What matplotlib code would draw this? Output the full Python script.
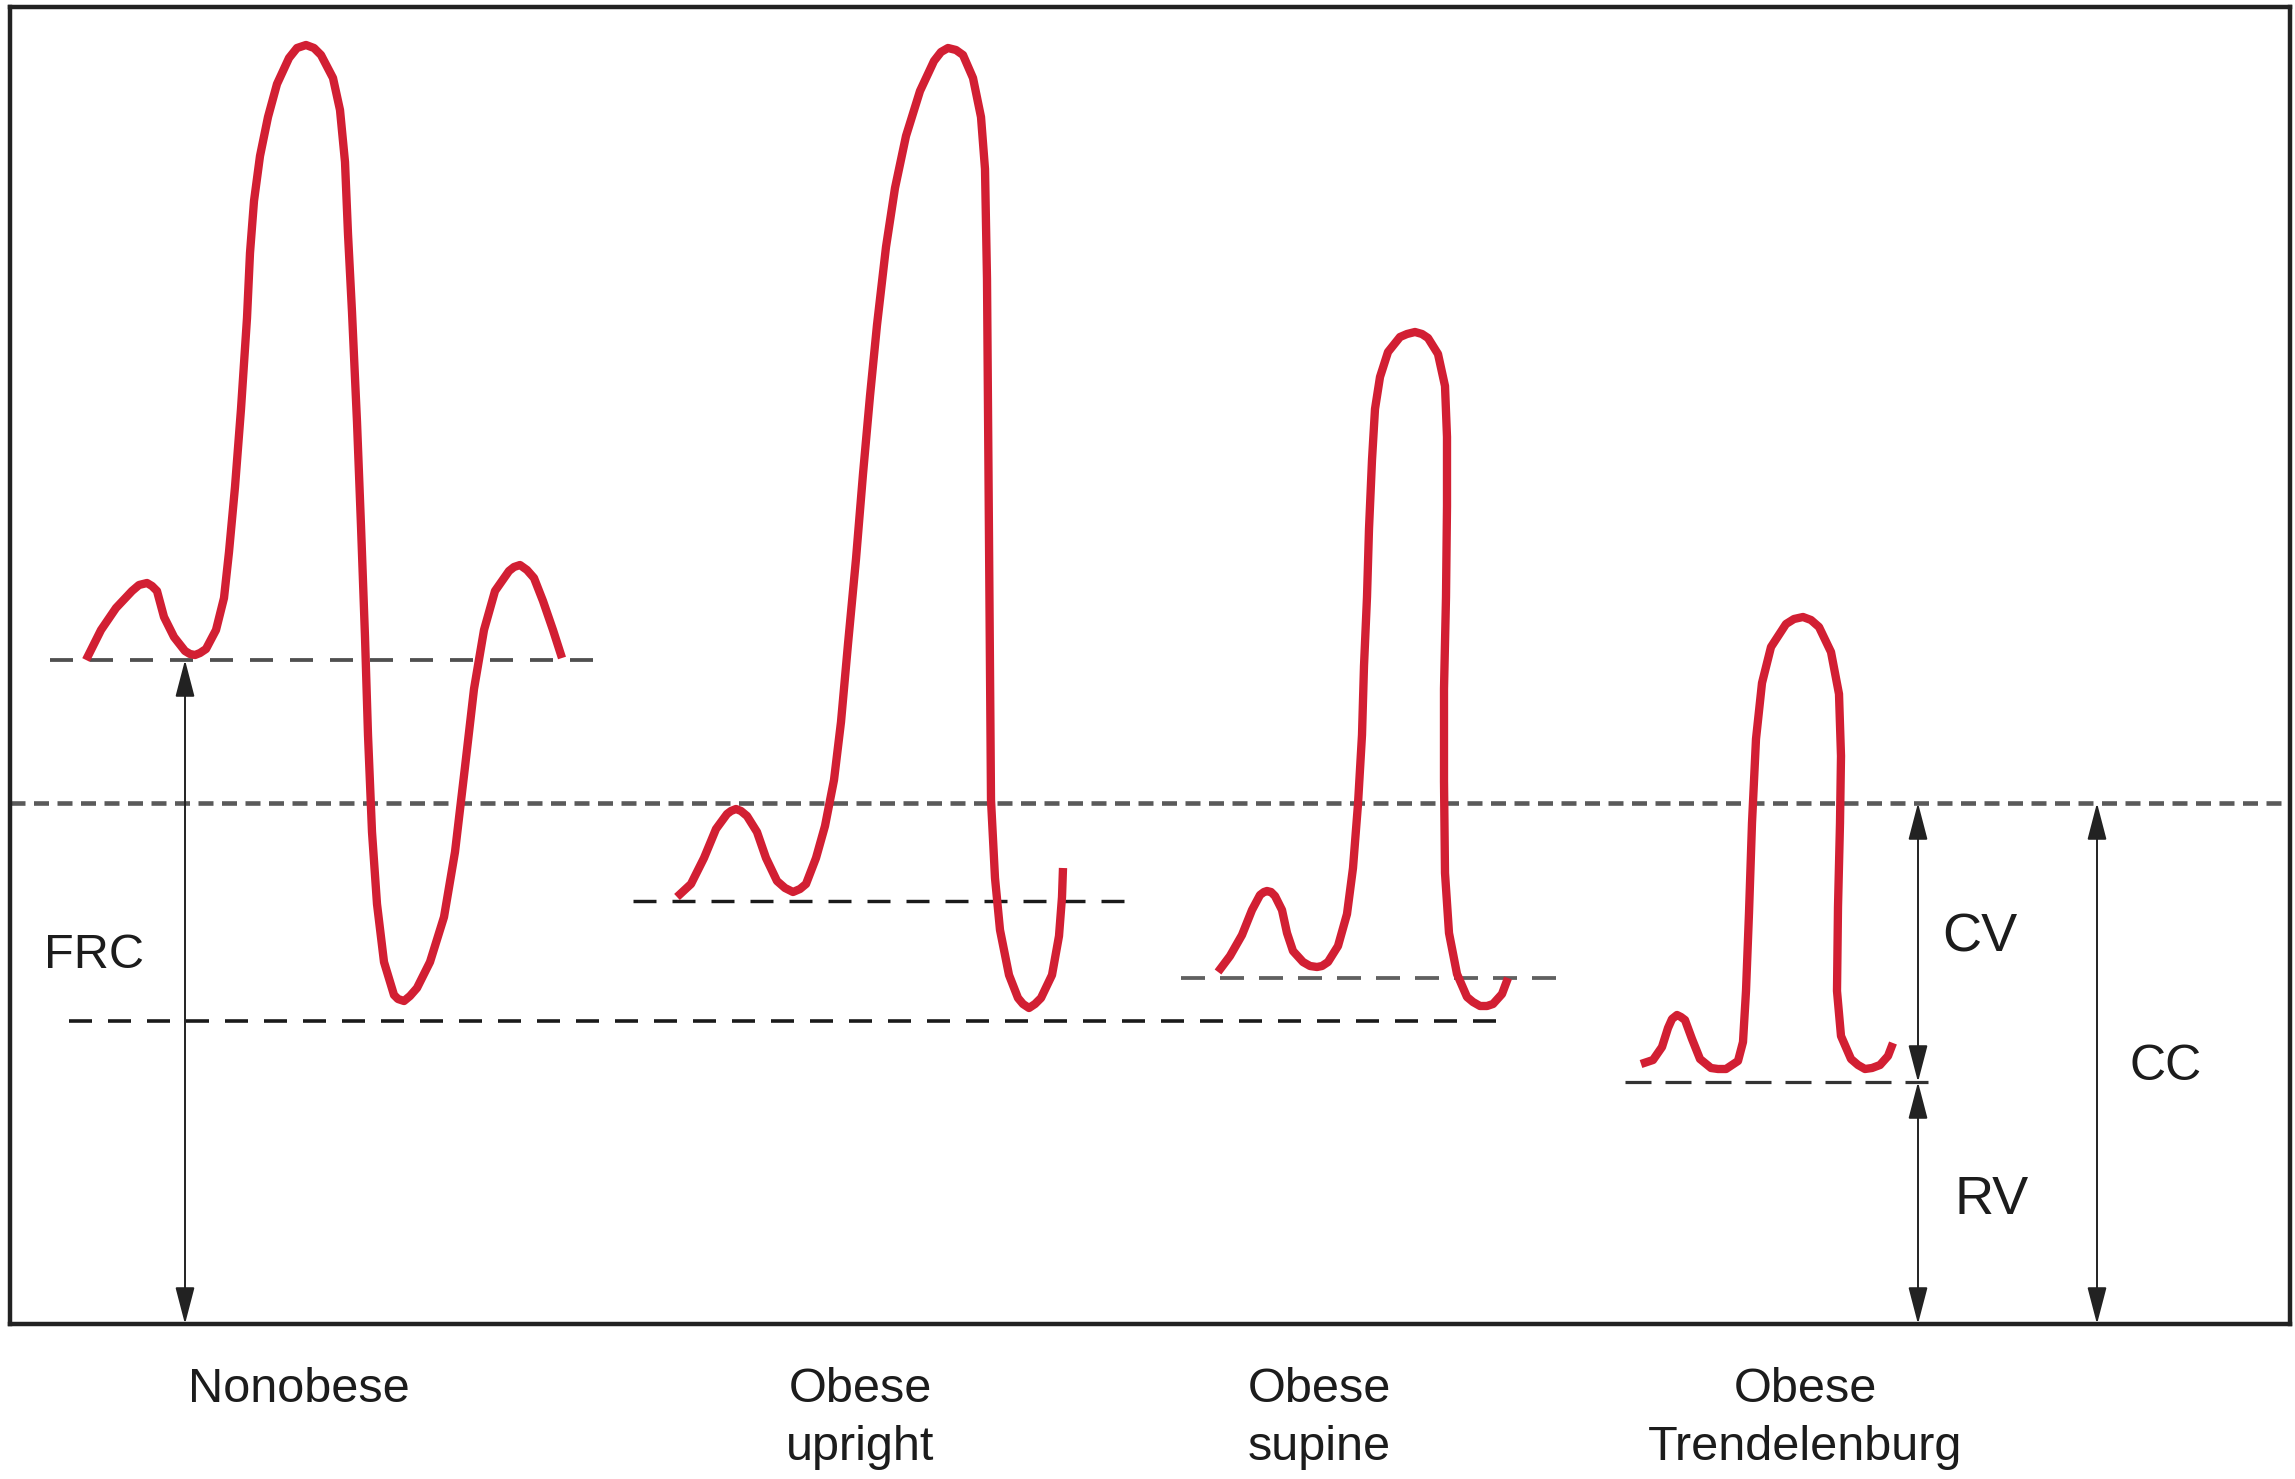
import numpy as np
import matplotlib
matplotlib.use("Agg")
import matplotlib.pyplot as plt

plt.rcParams['font.family'] = ['Liberation Sans', 'DejaVu Sans']

# breathing traces: x position, lung volume (arbitrary units, 0 = box floor)
nonobese_x = [86, 101, 116, 132, 139, 147, 152, 157, 164, 174, 185, 190, 195, 200, 206, 216,
              224, 229, 235, 241, 247, 250, 254, 260, 268, 277, 289, 297, 306, 314, 321, 333,
              340, 345, 348, 352, 357, 361, 365, 368, 372, 377, 384, 394, 398, 404, 410, 417,
              430, 444, 455, 465, 474, 484, 495, 509, 514, 520, 527, 534, 543, 553, 562]
nonobese_v = [664, 694, 716, 733, 739, 741, 738, 733, 707, 687, 673, 670, 669, 671, 675, 694,
              726, 772, 837, 915, 1006, 1071, 1123, 1168, 1207, 1240, 1266, 1276, 1279, 1276, 1269, 1246,
              1214, 1162, 1090, 1012, 902, 798, 687, 589, 492, 420, 362, 329, 325, 323, 328, 336,
              362, 407, 472, 557, 635, 694, 733, 753, 757, 759, 754, 746, 723, 694, 666]

upright_x = [677, 691, 704, 716, 727, 731, 736, 741, 747, 757, 766, 777, 785, 793, 800, 806,
             816, 825, 834, 841, 848, 856, 863, 870, 877, 886, 895, 906, 920, 934, 941, 948,
             956, 963, 973, 981, 985, 987, 988, 989, 990, 991, 995, 1000, 1009, 1018, 1023, 1029,
             1035, 1041, 1052, 1059, 1062, 1063]
upright_v = [427, 440, 466, 495, 510, 513, 515, 513, 508, 492, 466, 443, 436, 432, 435, 440,
             466, 498, 544, 602, 680, 765, 850, 928, 999, 1077, 1136, 1188, 1233, 1263, 1272, 1276,
             1274, 1269, 1246, 1207, 1155, 1045, 915, 785, 654, 524, 446, 394, 349, 326, 320, 316,
             320, 326, 349, 388, 427, 456]

supine_x = [1218, 1230, 1242, 1252, 1260, 1264, 1267, 1271, 1275, 1282, 1287, 1293, 1303, 1310,
            1317, 1322, 1328, 1338, 1347, 1353, 1358, 1362, 1364, 1367, 1369, 1372, 1375, 1380,
            1388, 1400, 1407, 1415, 1422, 1428, 1438, 1445, 1447, 1447, 1446, 1444, 1444, 1445,
            1449, 1457, 1467, 1473, 1480, 1487, 1493, 1502, 1508]
supine_v = [352, 368, 389, 414, 429, 432, 433, 432, 428, 414, 391, 373, 362, 358,
            357, 358, 362, 378, 410, 456, 520, 589, 658, 727, 795, 864, 915, 947,
            972, 987, 990, 992, 990, 986, 970, 938, 887, 818, 727, 635, 543, 451,
            391, 350, 327, 322, 318, 318, 320, 330, 346]

trend_x = [1641, 1653, 1662, 1668, 1672, 1677, 1681, 1685, 1692, 1700, 1711, 1718, 1726, 1738,
           1743, 1746, 1749, 1752, 1756, 1762, 1771, 1786, 1794, 1803, 1811, 1819, 1831, 1839,
           1841, 1840, 1838, 1837, 1841, 1851, 1858, 1865, 1872, 1880, 1888, 1893]
trend_v = [260, 264, 277, 296, 305, 309, 307, 304, 285, 265, 256, 255, 255, 263,
           282, 333, 411, 501, 585, 641, 677, 700, 705, 707, 704, 697, 672, 630,
           568, 501, 417, 333, 288, 265, 259, 255, 256, 259, 268, 281]

# reference volume levels
cc_level = 521
frc_nonobese = 664
rv_nonobese = 303
frc_upright = 423
frc_supine = 346
frc_trend = 242

box_x = (10, 2290)
box_v = (0, 1317)

red = '#d21f33'
ink = '#1c1c1c'

fig = plt.figure(figsize=(22.95, 14.79), dpi=100)
ax = fig.add_axes([10 / 2295, 155 / 1479, 2280 / 2295, 1317 / 1479])
ax.set_xlim(*box_x)
ax.set_ylim(*box_v)
ax.set_xticks([])
ax.set_yticks([])
for s in ax.spines.values():
    s.set_linewidth(3.2)
    s.set_color('#222222')


def dashed(x0, x1, v, lw, on, off, color):
    # lw, on, off given in pixels; dashes are in multiples of linewidth
    lw_pt = lw * 0.72
    ax.plot([x0, x1], [v, v], color=color, lw=lw_pt,
            dashes=(on * 0.72 / lw_pt, off * 0.72 / lw_pt), solid_capstyle='butt')


dashed(box_x[0], box_x[1], cc_level, 4.6, 15, 8.5, '#5a5a5a')
dashed(50, 604, frc_nonobese, 3.8, 23, 17, '#505050')
dashed(69, 1504, rv_nonobese, 3.6, 23, 16, '#1a1a1a')
dashed(633, 1131, frc_upright, 3.4, 23, 16, '#1a1a1a')
dashed(1181, 1557, frc_supine, 3.8, 24, 15, '#606060')
dashed(1625, 1928, frc_trend, 3.2, 26, 14, '#333333')

for xs, vs in [(nonobese_x, nonobese_v), (upright_x, upright_v),
               (supine_x, supine_v), (trend_x, trend_v)]:
    ax.plot(xs, vs, color=red, lw=6.0, solid_joinstyle='round', solid_capstyle='butt')


def arrow(x, v0, v1):
    ax.annotate('', xy=(x, v1), xytext=(x, v0),
                arrowprops=dict(arrowstyle='<|-|>,head_length=23,head_width=6',
                                mutation_scale=1, color='#222222', lw=1.4,
                                shrinkA=0, shrinkB=0))


arrow(185, frc_nonobese, 0)
arrow(1918, cc_level, frc_trend)
arrow(1918, frc_trend, 0)
arrow(2097, cc_level, 0)

ax.text(94, 368, 'FRC', fontsize=35, ha='center', va='center', color=ink)
ax.text(1980, 386, 'CV', fontsize=39, ha='center', va='center', color=ink)
ax.text(1992, 124, 'RV', fontsize=39, ha='center', va='center', color=ink)
ax.text(2166, 257, 'CC', fontsize=36, ha='center', va='center', color=ink)

group_x = [299, 860, 1319, 1805]
group_line1 = ['Nonobese', 'Obese', 'Obese', 'Obese']
group_line2 = ['', 'upright', 'supine', 'Trendelenburg']
for gx, l1, l2 in zip(group_x, group_line1, group_line2):
    ax.text(gx, -78, l1, fontsize=35, ha='center', va='baseline', color=ink, clip_on=False)
    if l2:
        ax.text(gx, -136, l2, fontsize=35, ha='center', va='baseline', color=ink, clip_on=False)

fig.savefig('out.png', dpi=100)
